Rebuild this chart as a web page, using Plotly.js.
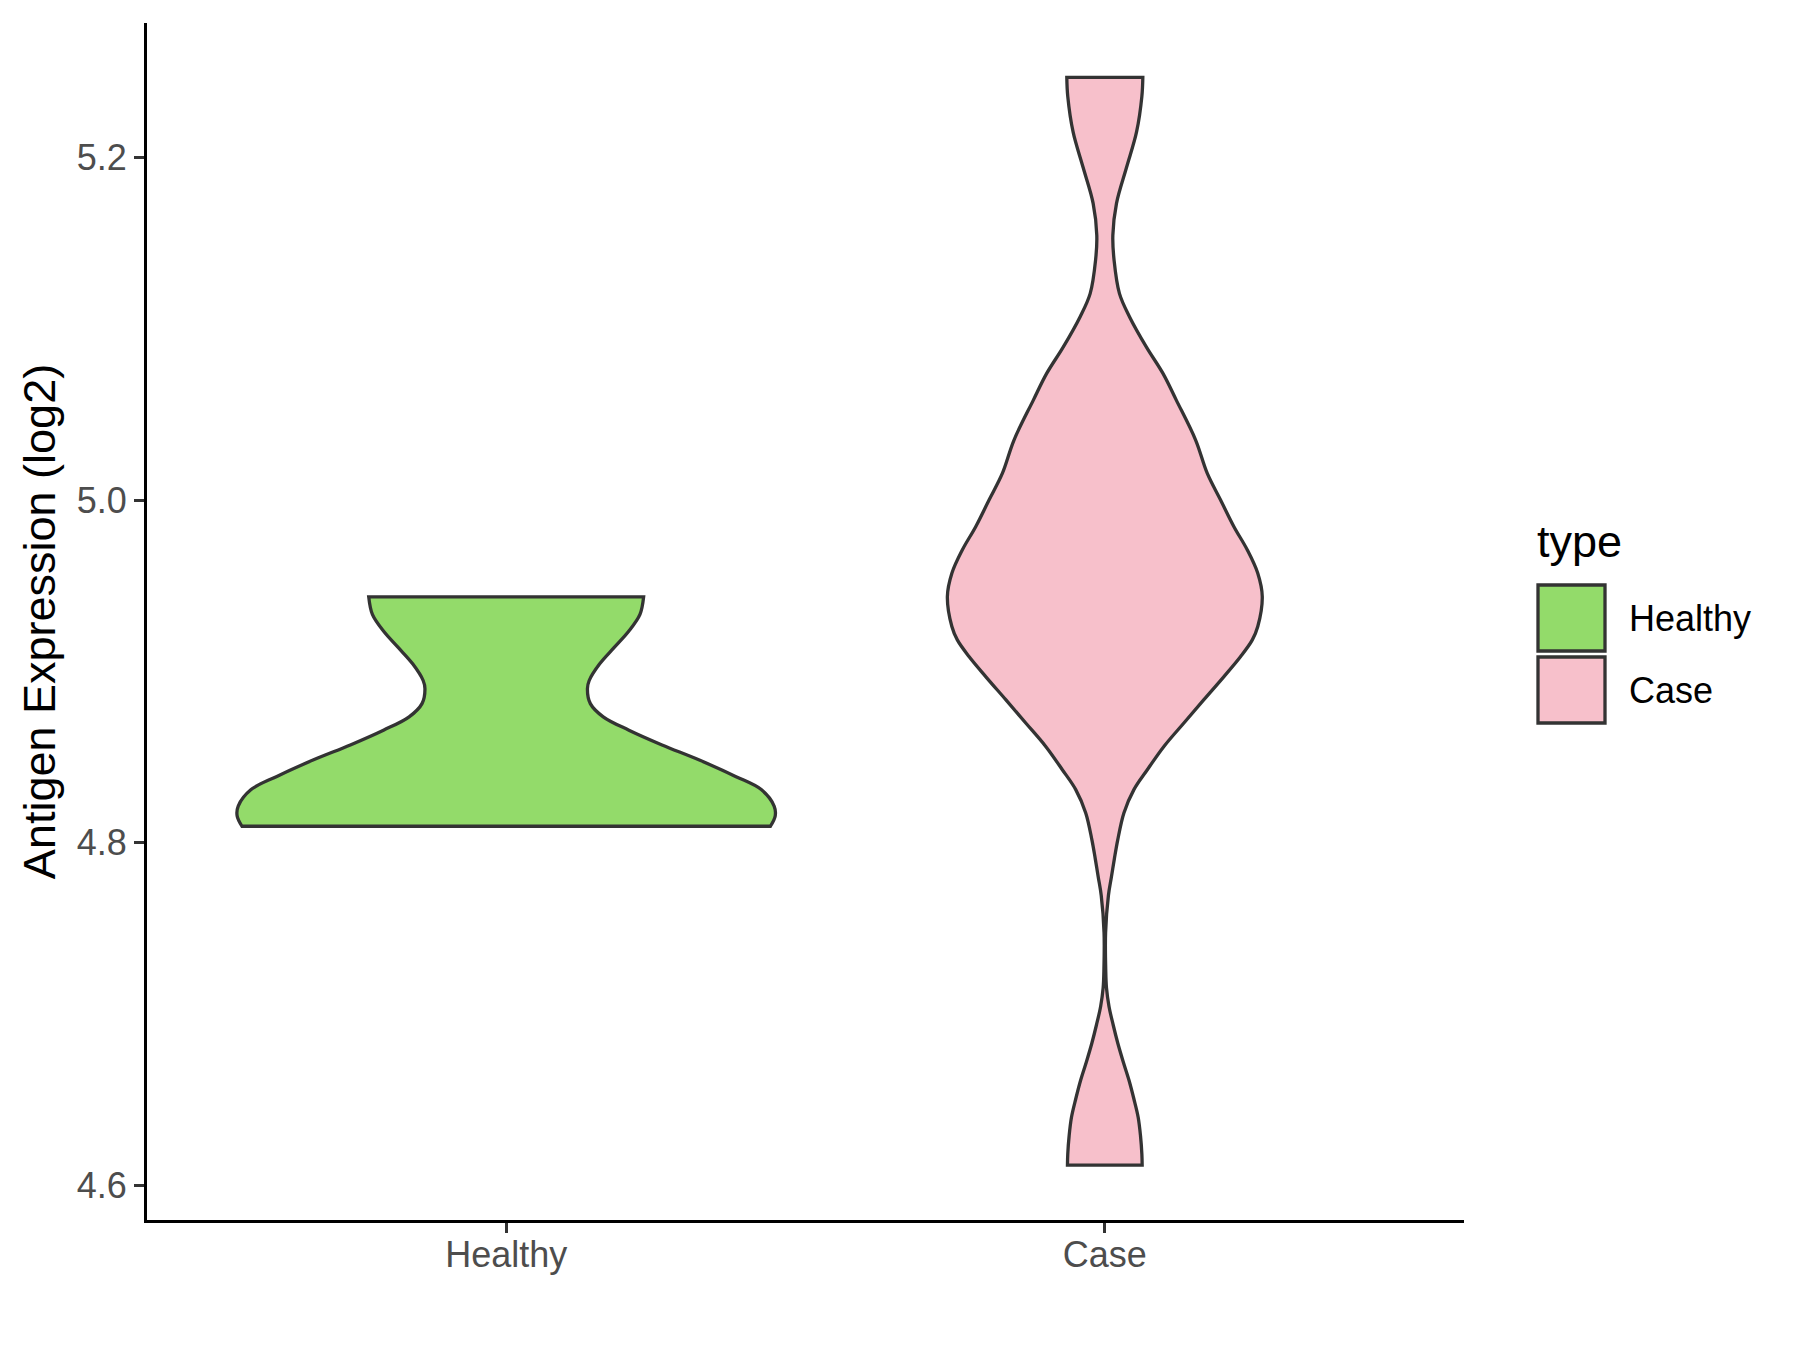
<!DOCTYPE html>
<html>
<head>
<meta charset="utf-8">
<script src="https://cdn.plot.ly/plotly-3.0.1.min.js"></script>
<style>html,body{margin:0;padding:0;background:#fff;}#chart{width:1800px;height:1350px;}</style>
</head>
<body>
<div id="chart"></div>
<script>
// Categories and colours
const categories = ['Healthy', 'Case'];
const fillColors = ['#93DB6A', '#F7C0CB'];

// Density profiles: expression level (log2) and violin half-width (category units)
const healthyLevels = [4.8097, 4.8157, 4.8215, 4.8311, 4.8388, 4.8485, 4.8572, 4.8658, 4.8736, 4.8813, 4.8900, 4.8948, 4.9044, 4.9141, 4.9237, 4.9334, 4.9436];
const healthyHalfWidth = [0.4414, 0.4494, 0.4476, 0.4261, 0.3831, 0.3217, 0.2603, 0.2050, 0.1621, 0.1406, 0.1357, 0.1387, 0.1559, 0.1805, 0.2050, 0.2235, 0.2296];

const caseLevels = [4.6118, 4.6182, 4.6290, 4.6398, 4.6506, 4.6614, 4.6722, 4.6830, 4.6938, 4.7045, 4.7153, 4.7261, 4.7477, 4.7693, 4.7801, 4.7908, 4.8016, 4.8175, 4.8311, 4.8427, 4.8563, 4.8700, 4.8836, 4.8971, 4.9088, 4.9185, 4.9263, 4.9438, 4.9574, 4.9710, 4.9846, 5.0002, 5.0157, 5.0352, 5.0585, 5.0741, 5.0896, 5.1071, 5.1207, 5.1401, 5.1547, 5.1734, 5.1943, 5.2151, 5.2359, 5.2469];
const caseHalfWidth = [0.0624, 0.0619, 0.0596, 0.0557, 0.0485, 0.0404, 0.0307, 0.0217, 0.0139, 0.0070, 0.0028, 0.0015, 0.0013, 0.0060, 0.0110, 0.0160, 0.0215, 0.0319, 0.0486, 0.0710, 0.0987, 0.1321, 0.1655, 0.1990, 0.2269, 0.2464, 0.2555, 0.2630, 0.2555, 0.2381, 0.2157, 0.1934, 0.1712, 0.1517, 0.1194, 0.0971, 0.0693, 0.0414, 0.0245, 0.0155, 0.0134, 0.0195, 0.0362, 0.0530, 0.0619, 0.0635];

// Axis ticks
const yTickVals = [4.6, 4.8, 5.0, 5.2];
const yTickText = ['4.6', '4.8', '5.0', '5.2'];

const profiles = [
  {levels: healthyLevels, hw: healthyHalfWidth},
  {levels: caseLevels, hw: caseHalfWidth}
];

function violinTrace(idx) {
  const c = idx + 1;
  const p = profiles[idx];
  const n = p.levels.length;
  const xs = [], ys = [];
  // left side, bottom to top (end points repeated so the flat caps stay straight)
  xs.push(c - p.hw[0]); ys.push(p.levels[0]);
  for (let i = 0; i < n; i++) { xs.push(c - p.hw[i]); ys.push(p.levels[i]); }
  xs.push(c - p.hw[n - 1]); ys.push(p.levels[n - 1]);
  // right side, top to bottom
  xs.push(c + p.hw[n - 1]); ys.push(p.levels[n - 1]);
  for (let i = n - 1; i >= 0; i--) { xs.push(c + p.hw[i]); ys.push(p.levels[i]); }
  xs.push(c + p.hw[0]); ys.push(p.levels[0]);
  xs.push(c - p.hw[0]); ys.push(p.levels[0]);
  return {
    type: 'scatter', mode: 'lines', x: xs, y: ys,
    fill: 'toself', fillcolor: fillColors[idx],
    line: {color: '#333333', width: 3.3, shape: 'spline', smoothing: 1, simplify: false},
    name: categories[idx], showlegend: false, hoverinfo: 'skip'
  };
}

const traces = categories.map((_, i) => violinTrace(i));

const W = 1800, H = 1350;
const M = {l: 147, r: 336, t: 23, b: 130};
const PW = W - M.l - M.r, PH = H - M.t - M.b;
const px = X => (X - M.l) / PW;
const py = Y => (H - M.b - Y) / PH;

const shapes = [];
const annotations = [];
// Legend (drawn manually to match ggplot keys)
annotations.push({xref: 'paper', yref: 'paper', x: px(1535), y: py(541), xanchor: 'left', yanchor: 'middle',
  text: 'type', showarrow: false, font: {family: 'Liberation Sans, Arial, sans-serif', size: 45, color: '#000000'}});
const keyTops = [585, 657];
categories.forEach((cat, i) => {
  shapes.push({type: 'rect', xref: 'paper', yref: 'paper', x0: px(1538), x1: px(1605), y0: py(keyTops[i]), y1: py(keyTops[i] + 66),
    fillcolor: fillColors[i], line: {color: '#333333', width: 3.3}});
  annotations.push({xref: 'paper', yref: 'paper', x: px(1627), y: py(keyTops[i] + 33), xanchor: 'left', yanchor: 'middle',
    text: cat, showarrow: false, font: {family: 'Liberation Sans, Arial, sans-serif', size: 36, color: '#000000'}});
});

const layout = {
  width: W, height: H,
  margin: {l: M.l, r: M.r, t: M.t, b: M.b, pad: 0},
  paper_bgcolor: '#ffffff', plot_bgcolor: '#ffffff',
  font: {family: 'Liberation Sans, Arial, sans-serif'},
  showlegend: false,
  xaxis: {
    range: [0.4, 2.6], tickvals: [1, 2], ticktext: categories,
    showline: true, linecolor: '#000000', linewidth: 3,
    ticks: 'outside', ticklen: 10, tickwidth: 3, tickcolor: '#333333',
    tickfont: {size: 36, color: '#4D4D4D'}, ticklabelstandoff: -9,
    showgrid: false, zeroline: false, automargin: false
  },
  yaxis: {
    range: [4.5798, 5.2787], tickvals: yTickVals, ticktext: yTickText,
    showline: true, linecolor: '#000000', linewidth: 3,
    ticks: 'outside', ticklen: 10, tickwidth: 3, tickcolor: '#333333',
    tickfont: {size: 36, color: '#4D4D4D'},
    showgrid: false, zeroline: false, automargin: false,
    title: {text: 'Antigen Expression (log2)', font: {size: 45, color: '#000000'}, standoff: 8}
  },
  shapes: shapes,
  annotations: annotations
};

Plotly.newPlot('chart', traces, layout, {staticPlot: true, displayModeBar: false});
</script>
</body>
</html>
